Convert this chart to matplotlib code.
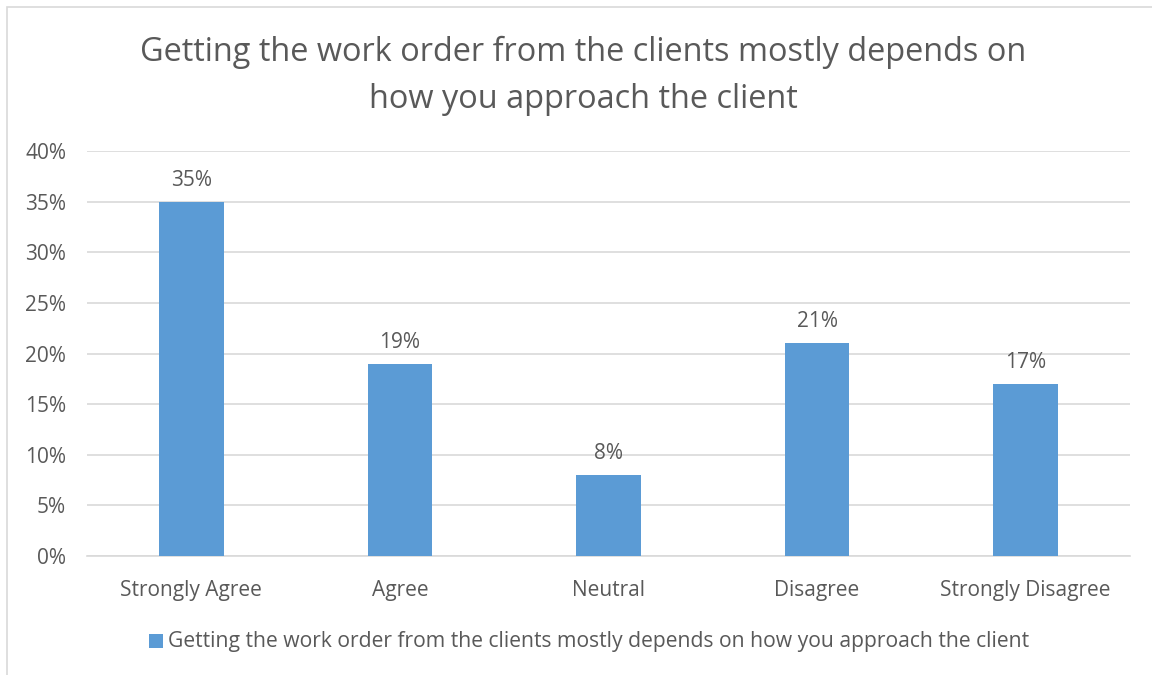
import matplotlib
matplotlib.use("Agg")
import matplotlib.pyplot as plt
from matplotlib.patches import Rectangle
from matplotlib.ticker import MultipleLocator, FuncFormatter

categories = ["Strongly Agree", "Agree", "Neutral", "Disagree", "Strongly Disagree"]
values = [35, 19, 8, 21, 17]
series_name = "Getting the work order from the clients mostly depends on how you approach the client"
title = "Getting the work order from the clients mostly depends on\nhow you approach the client"

BAR = "#5B9BD5"
TEXT = "#595959"
GRID = "#D9D9D9"

plt.rcParams["font.family"] = ["Open Sans", "DejaVu Sans"]

fig = plt.figure(figsize=(11.52, 6.75), dpi=100)
fig.patch.set_facecolor("white")

# chart area border
fig.patches.append(Rectangle((7 / 1152, -0.01), 1.02, 1 - 7 / 675 + 0.01,
                             transform=fig.transFigure, fill=False,
                             edgecolor=GRID, linewidth=1.2))

ax = fig.add_axes([87 / 1152, 1 - 556 / 675, (1130 - 87) / 1152, (556 - 151) / 675])
x = list(range(len(categories)))
bars = ax.bar(x, values, width=0.31, color=BAR, zorder=3)
ax.set_xlim(-0.5, len(categories) - 0.5)
ax.set_ylim(0, 40)
ax.yaxis.set_major_locator(MultipleLocator(5))
ax.yaxis.set_major_formatter(FuncFormatter(lambda v, p: f"{v:.0f}%"))
ax.grid(axis="y", color=GRID, linewidth=1.2, zorder=0)
for s in ["top", "right", "left"]:
    ax.spines[s].set_visible(False)
ax.spines["bottom"].set_color(GRID)
ax.spines["bottom"].set_linewidth(1.2)
ax.tick_params(axis="both", length=0, labelsize=15, colors=TEXT)
ax.tick_params(axis="y", pad=15)
ax.set_xticks(x)
ax.set_xticklabels(categories)
ax.tick_params(axis="x", pad=17)

for b, v in zip(bars, values):
    ax.annotate(f"{v}%", (b.get_x() + b.get_width() / 2, v), xytext=(0, 8),
                textcoords="offset points", ha="center", va="bottom",
                fontsize=15, color=TEXT)

fig.text(583 / 1152, 1 - 76 / 675, title, ha="center", va="center",
         fontsize=23.4, color=TEXT, linespacing=1.55)

# legend
fig.patches.append(Rectangle((149 / 1152, 1 - 648 / 675), 14 / 1152, 14 / 675,
                             transform=fig.transFigure, facecolor=BAR, edgecolor="none"))
fig.text(168 / 1152, 1 - 641 / 675, series_name, ha="left", va="center",
         fontsize=15.2, color=TEXT)

fig.savefig("out.png", dpi=100)
